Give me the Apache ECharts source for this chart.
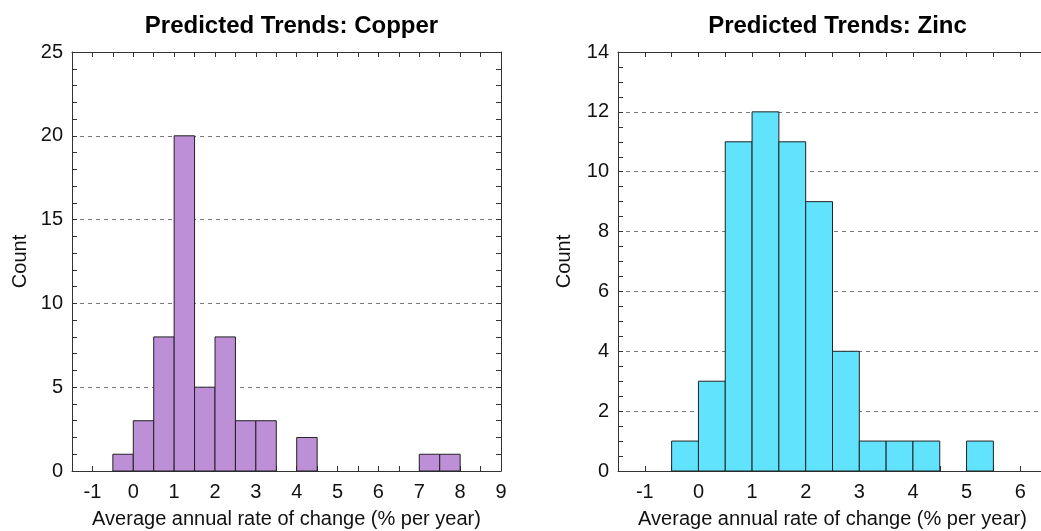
<!DOCTYPE html>
<html><head><meta charset="utf-8">
<script src="https://cdn.jsdelivr.net/npm/echarts@6/dist/echarts.min.js"></script>
<style>html,body{margin:0;padding:0;background:#fff}#c{width:1041px;height:531px}</style>
</head><body><div id="c"></div>
<script>
// Histogram data (bin width 0.5)
const binWidth = 0.5;
const copperBinStarts = [-0.5, 0, 0.5, 1, 1.5, 2, 2.5, 3, 4, 7, 7.5];
const copperCounts    = [1, 3, 8, 20, 5, 8, 3, 3, 2, 1, 1];
const zincBinStarts = [-0.5, 0, 0.5, 1, 1.5, 2, 2.5, 3, 3.5, 4, 5];
const zincCounts    = [1, 3, 11, 12, 11, 9, 4, 1, 1, 1, 1];
const titles = ['Predicted Trends: Copper', 'Predicted Trends: Zinc'];
const xName = 'Average annual rate of change (% per year)';
const yName = 'Count';

const FONT = 'Liberation Sans, Arial, sans-serif';
const axisCol = '#333';
const LBL = 20;

function hist(starts, counts) {
  return starts.map((s, i) => [s, s + binWidth, counts[i]]);
}
function renderBar(params, api) {
  const p0 = api.coord([api.value(0), api.value(2)]);
  const p1 = api.coord([api.value(1), 0]);
  return {
    type: 'rect',
    shape: {x: p0[0], y: p0[1], width: p1[0] - p0[0], height: p1[1] - p0[1]},
    style: {fill: api.visual('color'), stroke: '#222', lineWidth: 1}
  };
}
const grids = [
  {left: 72, top: 52, width: 429, height: 419, containLabel: false, outerBoundsMode: 'none'},
  {left: 618, top: 52, width: 429, height: 419, containLabel: false, outerBoundsMode: 'none'}
];
function xAxes(gi, min, max) {
  const common = {
    type: 'value', gridIndex: gi, min: min, max: max, interval: 0.5,
    axisLine: {show: true, onZero: false, lineStyle: {color: axisCol, width: 1}},
    axisTick: {show: true, inside: true, length: 5, lineStyle: {color: axisCol}},
    splitLine: {show: false}
  };
  return [
    Object.assign({}, common, {position: 'bottom',
      name: xName, nameLocation: 'middle', nameGap: 38,
      nameTextStyle: {fontFamily: FONT, fontSize: LBL, color: '#111'},
      axisLabel: {show: true, margin: 11, fontFamily: FONT, fontSize: LBL, color: '#111',
        showMinLabel: false, showMaxLabel: true,
        formatter: v => Number.isInteger(v) ? String(v) : ''}}),
    Object.assign({}, common, {position: 'top', axisLabel: {show: false}})
  ];
}
function yAxes(gi, max, interval, minorSplit, nameGap) {
  const common = {
    type: 'value', gridIndex: gi, min: 0, max: max, interval: interval,
    axisLine: {show: true, onZero: false, lineStyle: {color: axisCol, width: 1}},
    axisTick: {show: true, inside: true, length: 5, lineStyle: {color: axisCol}},
    minorTick: {show: true, splitNumber: minorSplit, length: 5, lineStyle: {color: axisCol}}
  };
  return [
    Object.assign({}, common, {position: 'left',
      name: yName, nameLocation: 'middle', nameGap: nameGap,
      nameTextStyle: {fontFamily: FONT, fontSize: LBL, color: '#111'},
      axisLabel: {margin: 9, fontFamily: FONT, fontSize: LBL, color: '#111'},
      splitLine: {show: true, lineStyle: {color: '#777', type: [4, 4], width: 1}}}),
    Object.assign({}, common, {position: 'right', axisLabel: {show: false}, splitLine: {show: false}})
  ];
}
const chart = echarts.init(document.getElementById('c'), null, {renderer: 'canvas'});
chart.setOption({
  animation: false,
  backgroundColor: '#fff',
  title: [
    {text: titles[0], left: 72 + 429 / 2, top: 9, textAlign: 'center',
      textStyle: {fontFamily: FONT, fontSize: 24, fontWeight: 'bold', color: '#000'}},
    {text: titles[1], left: 618 + 429 / 2, top: 9, textAlign: 'center',
      textStyle: {fontFamily: FONT, fontSize: 24, fontWeight: 'bold', color: '#000'}}
  ],
  grid: grids,
  xAxis: [...xAxes(0, -1.5, 9), ...xAxes(1, -1.5, 6.5)],
  yAxis: [...yAxes(0, 25, 5, 5, 42), ...yAxes(1, 14, 2, 4, 44)],
  series: [
    {type: 'custom', xAxisIndex: 0, yAxisIndex: 0, renderItem: renderBar,
      itemStyle: {color: '#BC8FD7'}, encode: {x: [0, 1], y: 2},
      data: hist(copperBinStarts, copperCounts), z: 3},
    {type: 'custom', xAxisIndex: 2, yAxisIndex: 2, renderItem: renderBar,
      itemStyle: {color: '#62E3FD'}, encode: {x: [0, 1], y: 2},
      data: hist(zincBinStarts, zincCounts), z: 3}
  ]
});
</script></body></html>
